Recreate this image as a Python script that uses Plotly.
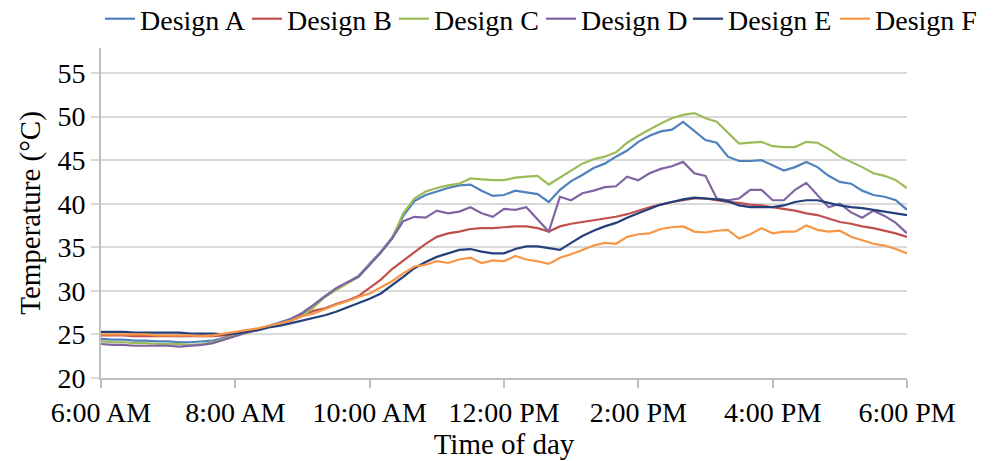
import plotly.graph_objects as go

# Time of day in hours (10-minute steps, 6:00 AM to 6:00 PM)
hours = [6 + k / 6 for k in range(73)]

tick_hours = [6, 8, 10, 12, 14, 16, 18]
tick_labels = ["6:00 AM", "8:00 AM", "10:00 AM", "12:00 PM", "2:00 PM", "4:00 PM", "6:00 PM"]
y_ticks = [20, 25, 30, 35, 40, 45, 50, 55]

design_a = [24.5, 24.4, 24.4, 24.3, 24.3, 24.2, 24.2, 24.1, 24.1, 24.2, 24.3, 24.6, 25.0, 25.3, 25.6, 26.0, 26.4, 26.8,
            27.4, 28.4, 29.4, 30.2, 31.0, 31.7, 33.1, 34.5, 36.1, 38.6, 40.3, 41.0, 41.4, 41.8, 42.1, 42.2, 41.5, 40.9,
            41.0, 41.5, 41.3, 41.1, 40.2, 41.6, 42.6, 43.3, 44.1, 44.6, 45.4, 46.1, 47.1, 47.8, 48.3, 48.5, 49.4, 48.4,
            47.3, 47.0, 45.4, 44.9, 44.9, 45.0, 44.4, 43.8, 44.2, 44.8, 44.2, 43.2, 42.5, 42.3, 41.5, 41.0, 40.8, 40.4, 39.3]
design_b = [24.9, 24.9, 24.9, 24.8, 24.8, 24.8, 24.8, 24.8, 24.8, 24.8, 24.8, 24.9, 25.1, 25.3, 25.6, 25.9, 26.2, 26.6,
            27.2, 27.7, 28.0, 28.5, 28.9, 29.4, 30.3, 31.3, 32.5, 33.5, 34.5, 35.4, 36.2, 36.6, 36.8, 37.1, 37.2, 37.2,
            37.3, 37.4, 37.4, 37.2, 36.8, 37.4, 37.7, 37.9, 38.1, 38.3, 38.5, 38.8, 39.2, 39.6, 39.9, 40.2, 40.4, 40.6,
            40.6, 40.4, 40.2, 40.1, 39.9, 39.8, 39.6, 39.4, 39.2, 38.9, 38.7, 38.3, 37.9, 37.7, 37.4, 37.2, 36.9, 36.6, 36.2]
design_c = [24.2, 24.1, 24.1, 24.0, 24.0, 23.9, 23.9, 23.9, 23.8, 23.9, 24.1, 24.5, 24.9, 25.2, 25.5, 25.9, 26.2, 26.6,
            27.1, 28.1, 29.3, 30.1, 30.9, 31.6, 33.0, 34.4, 36.0, 38.9, 40.6, 41.4, 41.8, 42.1, 42.3, 42.9, 42.8, 42.7,
            42.7, 43.0, 43.1, 43.2, 42.2, 43.0, 43.9, 44.6, 45.1, 45.4, 45.9, 47.0, 47.8, 48.5, 49.2, 49.8, 50.2, 50.4,
            49.8, 49.4, 48.1, 46.9, 47.0, 47.1, 46.6, 46.5, 46.5, 47.1, 47.0, 46.3, 45.4, 44.8, 44.2, 43.5, 43.2, 42.7, 41.8]
design_d = [23.9, 23.8, 23.8, 23.7, 23.7, 23.7, 23.7, 23.6, 23.7, 23.8, 24.0, 24.4, 24.8, 25.2, 25.5, 25.9, 26.3, 26.8,
            27.5, 28.4, 29.3, 30.3, 31.0, 31.6, 33.0, 34.4, 36.0, 38.0, 38.5, 38.4, 39.2, 38.9, 39.1, 39.6, 38.9, 38.5,
            39.4, 39.3, 39.6, 38.2, 36.8, 40.8, 40.4, 41.2, 41.5, 41.9, 42.0, 43.1, 42.7, 43.5, 44.0, 44.3, 44.8, 43.5,
            43.2, 40.6, 40.4, 40.6, 41.6, 41.6, 40.4, 40.4, 41.6, 42.4, 41.0, 39.6, 40.0, 39.0, 38.4, 39.2, 38.6, 37.8, 36.6]
design_e = [25.3, 25.3, 25.3, 25.2, 25.2, 25.2, 25.2, 25.2, 25.1, 25.1, 25.1, 25.0, 25.1, 25.3, 25.5, 25.8, 26.0, 26.3,
            26.6, 26.9, 27.2, 27.6, 28.1, 28.6, 29.1, 29.7, 30.6, 31.6, 32.6, 33.3, 33.9, 34.3, 34.7, 34.8, 34.5, 34.3,
            34.3, 34.8, 35.1, 35.1, 34.9, 34.7, 35.5, 36.3, 36.9, 37.4, 37.8, 38.4, 38.9, 39.4, 39.9, 40.2, 40.5, 40.7,
            40.6, 40.5, 40.3, 39.8, 39.6, 39.6, 39.6, 39.8, 40.2, 40.4, 40.4, 40.1, 39.8, 39.6, 39.5, 39.3, 39.1, 38.9, 38.7]
design_f = [25.0, 25.0, 25.0, 25.0, 25.0, 24.9, 24.9, 24.9, 24.9, 24.8, 24.9, 25.1, 25.3, 25.5, 25.7, 26.0, 26.3, 26.6,
            27.1, 27.4, 27.9, 28.4, 28.8, 29.3, 29.7, 30.4, 31.1, 32.0, 32.8, 33.0, 33.4, 33.2, 33.6, 33.8, 33.2, 33.5,
            33.4, 34.0, 33.6, 33.4, 33.1, 33.8, 34.2, 34.7, 35.2, 35.5, 35.4, 36.2, 36.5, 36.6, 37.1, 37.3, 37.4, 36.8,
            36.7, 36.9, 37.0, 36.0, 36.5, 37.2, 36.6, 36.8, 36.8, 37.5, 37.0, 36.8, 36.9, 36.2, 35.8, 35.4, 35.2, 34.8, 34.3]

series = [
    ("Design A", design_a, "#4F81BD"),
    ("Design B", design_b, "#C0504D"),
    ("Design C", design_c, "#9BBB59"),
    ("Design D", design_d, "#8064A2"),
    ("Design E", design_e, "#243F7A"),
    ("Design F", design_f, "#F79646"),
]

FONT = "Liberation Serif"
PLOT_W = 995 - 101 - 88
PLOT_H = 461 - 48 - 83

fig = go.Figure()
for name, vals, color in series:
    fig.add_trace(go.Scatter(x=hours[:len(vals)], y=vals, mode="lines", name=name,
                             line=dict(color=color, width=2.2)))

fig.update_layout(
    template="none",
    width=995, height=461,
    margin=dict(l=101, r=88, t=48, b=83, autoexpand=False),
    paper_bgcolor="white", plot_bgcolor="white",
    font=dict(family=FONT, size=28, color="black"),
    showlegend=True,
    legend=dict(orientation="h", xref="paper", yref="paper",
                x=-1 / PLOT_W, y=1 + 54 / PLOT_H, xanchor="left", yanchor="top",
                itemwidth=30, entrywidth=102, entrywidthmode="pixels", tracegroupgap=0,
                font=dict(family=FONT, size=28, color="black"),
                bgcolor="rgba(0,0,0,0)", traceorder="normal", borderwidth=0),
    xaxis=dict(range=[6, 18], tickvals=tick_hours, ticktext=tick_labels, tickangle=0,
               showgrid=False, showline=True, linecolor="#BFBFBF", linewidth=2,
               ticks="outside", ticklen=8, tickcolor="#BFBFBF", tickwidth=1.5,
               tickfont=dict(family=FONT, size=28, color="black"),
               zeroline=False,
               title=dict(text="Time of day", font=dict(family=FONT, size=29, color="black"), standoff=4)),
    yaxis=dict(range=[20, 57.87], tickvals=y_ticks, showgrid=True, gridcolor="#D9D9D9", gridwidth=1.5,
               showline=True, linecolor="#BFBFBF", linewidth=2,
               ticks="outside", ticklen=8, tickcolor="#D9D9D9", tickwidth=1.5,
               tickfont=dict(family=FONT, size=28, color="black"),
               zeroline=False,
               title=dict(text="Temperature (°C)", font=dict(family=FONT, size=29, color="black"), standoff=8)),
)

fig.write_html("out.html")
